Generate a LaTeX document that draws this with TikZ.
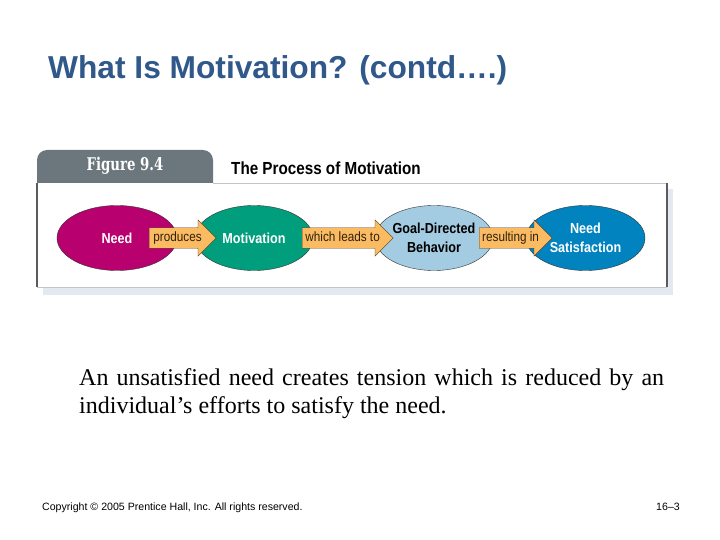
\documentclass[tikz,border=0pt]{standalone}
\usepackage{fontspec}
\setmainfont{Liberation Serif}
\setsansfont{Liberation Sans}
\newfontfamily\condfont[FakeStretch=0.87]{Liberation Sans}
\newfontfamily\figfont[FakeStretch=0.76]{DejaVu Serif}
\usetikzlibrary{shapes.geometric, shapes.arrows, positioning}
\definecolor{TitleBlue}{RGB}{48,88,138}
\definecolor{TabGray}{RGB}{108,119,125}
\definecolor{NeedMagenta}{RGB}{184,0,110}
\definecolor{MotivTeal}{RGB}{0,158,124}
\definecolor{GoalBlue}{RGB}{163,203,226}
\definecolor{SatBlue}{RGB}{0,131,190}
\definecolor{ArrowFill}{RGB}{250,187,98}
\definecolor{ArrowEdge}{RGB}{80,55,20}
\definecolor{BoxDark}{RGB}{90,90,95}
\definecolor{BoxLight}{RGB}{195,195,200}
\definecolor{ShadowBlue}{RGB}{228,232,240}

\begin{document}
\begin{tikzpicture}[x=1pt, y=-1pt,
    stage/.style={ellipse, draw=black!80, thin, minimum width=120pt, minimum height=65pt,
      inner sep=0pt, align=center, font=\condfont\bfseries\fontsize{14.5}{19}\selectfont},
    flow/.style={single arrow, draw=ArrowEdge, fill=ArrowFill, thin, anchor=tail,
      single arrow head extend=8pt, inner xsep=2pt, inner ysep=4pt,
      text height=9.5pt, text depth=2.5pt, text=ArrowEdge!60!black,
      font=\condfont\fontsize{13.5}{13.5}\selectfont}]
  \useasboundingbox (0,0) rectangle (720,540);
  \def\yc{238}
  % Title
  \node[anchor=base west, inner sep=0pt, text=TitleBlue,
    font=\sffamily\bfseries\fontsize{31.7}{32}\selectfont] (title) at (48,79) {What Is Motivation? (contd….)};
  % Figure frame: shadow, tab, box
  \fill[ShadowBlue] (43,189) rectangle (673,295);
  \fill[TabGray, rounded corners=10pt] (37,150) rectangle (213,200);
  \fill[white] (37,183) rectangle (667,287);
  \draw[BoxLight] (213,183) -- (667,183);
  \draw[BoxLight] (37,287) -- (667,287);
  \draw[BoxDark, line width=1.2pt] (37,183) -- (37,287);
  \draw[BoxDark, line width=1.2pt] (667,183) -- (667,287);
  % Figure headers
  \node[text=white, font=\figfont\bfseries\fontsize{17.5}{17.5}\selectfont] (fig) at (125,166) {Figure 9.4};
  \node[anchor=west, inner sep=0pt, font=\condfont\bfseries\fontsize{17.5}{17.5}\selectfont]
    (figtitle) at (231,168) {The Process of Motivation};
  % Stages
  \node[stage, fill=NeedMagenta, text=white] (need) at (117,\yc) {Need};
  \node[stage, fill=MotivTeal, text=white, minimum width=118pt] (motiv) at (254,\yc) {Motivation};
  \node[stage, fill=GoalBlue, text=black, minimum width=118pt] (goal) at (434,\yc) {Goal-Directed\\Behavior};
  \node[stage, fill=SatBlue, text=white, minimum width=119pt] (sat) at (585.5,\yc) {Need\\Satisfaction};
  % Block arrows between stages
  \node[flow, minimum height=67pt] (produces) at (149,\yc) {produces};
  \node[flow, minimum height=91pt] (leads) at (302,\yc) {which leads to};
  \node[flow, minimum height=73pt] (resulting) at (479,\yc) {resulting in};
  % Body text
  \node[anchor=north west, inner sep=0pt, text width=585pt, align=justify,
    font=\fontsize{24}{28}\selectfont] (body) at (79,368)
    {An unsatisfied need creates tension which is reduced by an individual’s efforts to satisfy the need.};
  % Footer
  \node[anchor=base west, inner sep=0pt, font=\sffamily\fontsize{10.6}{11}\selectfont]
    (copy) at (42,510) {Copyright © 2005 Prentice Hall, Inc. All rights reserved.};
  \node[anchor=base east, inner sep=0pt, font=\sffamily\fontsize{10.6}{11}\selectfont]
    (page) at (680,510) {16–3};
\end{tikzpicture}
\end{document}
